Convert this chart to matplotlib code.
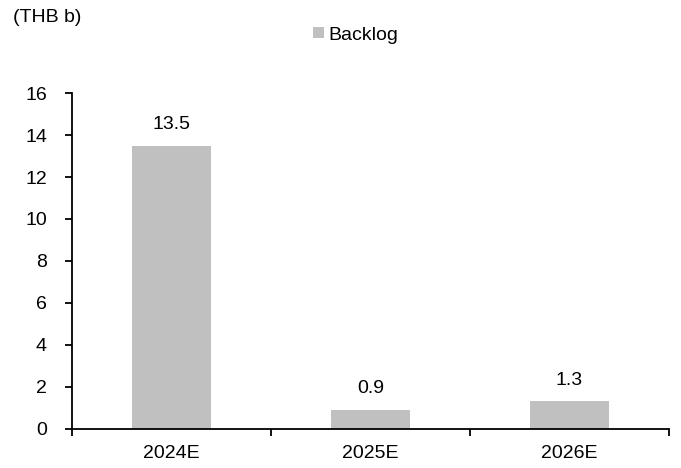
import matplotlib
matplotlib.use("Agg")
import matplotlib.pyplot as plt
from matplotlib.ticker import FixedLocator

plt.rcParams['font.family'] = ['Liberation Sans', 'DejaVu Sans']

categories = ["2024E", "2025E", "2026E"]
backlog = [13.5, 0.9, 1.3]
yticks = [0, 2, 4, 6, 8, 10, 12, 14, 16]

W, H = 681, 468
fig = plt.figure(figsize=(W / 100, H / 100), dpi=100)
ax = fig.add_axes([72 / W, 1 - 428.5 / H, 597 / W, (428.5 - 93.3) / H])

x = list(range(len(categories)))
bars = ax.bar(x, backlog, width=0.4, color="#C0C0C0", label="Backlog", zorder=2)
for xi, v in zip(x, backlog):
    ax.annotate(f"{v:.1f}", (xi, v), xytext=(0, 9), textcoords="offset points",
                ha="center", va="bottom", fontsize=14)

ax.set_xlim(-0.5, len(categories) - 0.5)
ax.set_ylim(0, 16)
ax.set_yticks(yticks)
ax.set_xticks(x)
ax.set_xticklabels(categories)
ax.xaxis.set_minor_locator(FixedLocator([i - 0.5 for i in range(len(categories) + 1)]))
ax.tick_params(axis="x", which="major", length=0, labelsize=14, pad=12)
ax.tick_params(axis="x", which="minor", length=5, width=1.3, direction="out")
ax.tick_params(axis="y", length=5, width=1.3, direction="out", labelsize=14, pad=13)

for s in ["top", "right"]:
    ax.spines[s].set_visible(False)
ax.spines["left"].set_linewidth(1.3)
ax.spines["bottom"].set_linewidth(1.3)

fig.text(13 / W, 1 - 18 / H, "(THB b)", fontsize=14, va="center", ha="left")
fig.legend(handles=[bars], labels=["Backlog"], loc="center", bbox_to_anchor=(356 / W, 1 - 35 / H),
           frameon=False, fontsize=14, handlelength=0.55, handleheight=0.55, handletextpad=0.25)

fig.savefig("out.png", dpi=100)
